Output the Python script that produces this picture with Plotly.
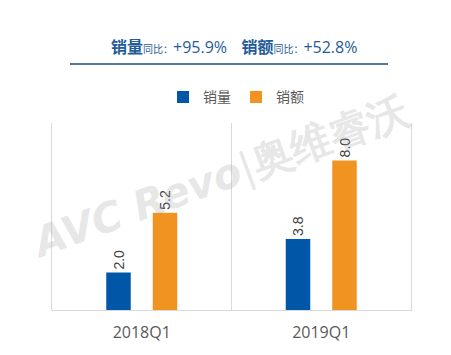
import plotly.graph_objects as go

categories = ["2018Q1", "2019Q1"]
series_names = ["销量", "销额"]
sales_volume = [2.0, 3.8]
sales_amount = [5.2, 8.0]
yoy_volume = "+95.9%"
yoy_amount = "+52.8%"

W, H = 451, 355
L, R, T, B = 52, 40, 123, 42
PH = H - T - B
PW = W - L - R

def px(x):
    return (x - L) / PW

def py(y):
    return (H - B - y) / PH

BLUE = "#0057a8"
ORANGE = "#f19321"
TXT = "#404040"

fig = go.Figure()
for name, vals, col in [(series_names[0], sales_volume, BLUE), (series_names[1], sales_amount, ORANGE)]:
    fig.add_trace(go.Bar(
        x=categories, y=vals, name=name, marker=dict(color=col, line=dict(width=0)),
        text=[f"{v:.1f}" for v in vals], textposition="outside", textangle=-90,
        textfont=dict(size=14, color=TXT, family="Liberation Sans, Arial"),
        cliponaxis=False,
    ))

title_html = (
    f"<b>{series_names[0]}</b><span style='font-size:10px'>同比：</span>"
    f"<span style='font-family:Open Sans'>{yoy_volume}</span>"
    f"&nbsp;&nbsp;&nbsp;&nbsp;<b>{series_names[1]}</b><span style='font-size:10px'>同比：</span>"
    f"<span style='font-family:Open Sans'>{yoy_amount}</span>"
)

fig.update_layout(
    width=W, height=H,
    margin=dict(l=L, r=R, t=T, b=B),
    paper_bgcolor="white", plot_bgcolor="white",
    barmode="group", bargap=0.482, bargroupgap=0.473,
    font=dict(family="Noto Sans CJK SC, sans-serif", color="#595959"),
    showlegend=True,
    legend=dict(orientation="h", x=px(236), xanchor="center", y=py(97), yanchor="middle",
                font=dict(size=14, color="#595959"), itemwidth=30, traceorder="normal",
                bgcolor="rgba(0,0,0,0)"),
    xaxis=dict(type="category", range=[-0.5, 1.5], showgrid=True, tickson="boundaries",
               gridcolor="#d9d9d9", gridwidth=1, showline=True, linecolor="#d9d9d9",
               ticks="", ticklabelstandoff=8,
               tickfont=dict(size=16, color="#595959", family="Open Sans, sans-serif"),
               zeroline=False),
    yaxis=dict(range=[0, 10], showticklabels=False, ticks="", showgrid=False, zeroline=False,
               showline=True, mirror=True, linecolor="#d9d9d9", linewidth=1),
    annotations=[
        dict(xref="paper", yref="paper", x=px(234), y=py(45), xanchor="center", yanchor="middle",
             text=title_html, showarrow=False,
             font=dict(size=16, color="#1f5c99", family="Noto Sans CJK SC, sans-serif")),
        dict(xref="paper", yref="paper", x=px(220), y=py(178), xanchor="center", yanchor="middle",
             text="<b><i>AVC Revo</i></b>|<b>奥维睿沃</b>", showarrow=False, textangle=-20,
             font=dict(size=41, color="rgba(170,170,170,0.3)", family="DejaVu Sans, sans-serif")),
    ],
    shapes=[
        dict(type="line", xref="paper", yref="paper", x0=px(70), x1=px(388), y0=py(63), y1=py(63),
             line=dict(color="#1f4e79", width=1.5)),
    ],
)

fig.write_html("out.html")
